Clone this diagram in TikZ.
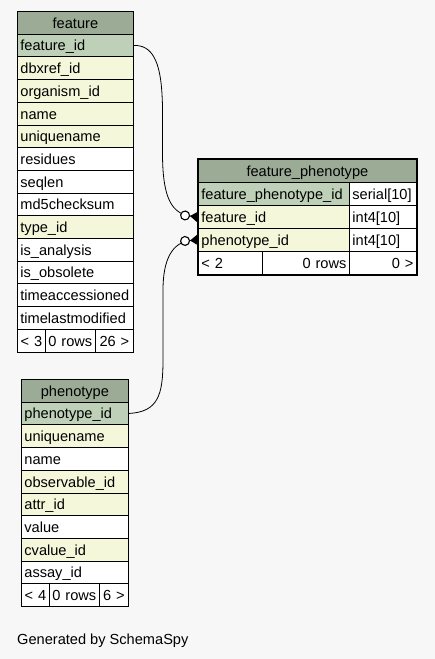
\documentclass[tikz,border=0pt]{standalone}
\usepackage{fontspec}
\setmainfont{Liberation Sans}
\usetikzlibrary{arrows.meta}
\definecolor{hdrcolor}{HTML}{9BAB96}
\definecolor{pkcolor}{HTML}{BED1B8}
\definecolor{fkcolor}{HTML}{F4F7DA}
\definecolor{bgcolor}{HTML}{F7F7F7}
\tikzset{
    cell/.style={draw=black, line width=0.8pt, anchor=north west, inner xsep=3pt,
        inner ysep=0pt, minimum height=22.7pt, text width=#1, align=left,
        text height=12pt, text depth=1pt},
    hdrrow/.style={fill=hdrcolor, align=center},
    pkrow/.style={fill=pkcolor},
    fkrow/.style={fill=fkcolor},
    plainrow/.style={fill=white},
    relation/.style={line width=0.8pt,
        -{Circle[open,fill=white,length=10pt,width=10pt,line width=1.1pt] Triangle[reversed,length=8pt,width=11pt]}}
}

\begin{document}
\begin{tikzpicture}[x=1pt, y=-1pt, font=\fontsize{14.6}{17}\selectfont]

% Hintergrund
\fill[bgcolor] (0,0) rectangle (435,659);
\useasboundingbox (0,0) rectangle (435,659);

% Tabelle feature
\node[cell=110pt, hdrrow] (fh) at (17,11) {feature};
\foreach \txt/\kind [count=\i] in {feature\_id/pkrow, dbxref\_id/fkrow, organism\_id/fkrow,
    name/fkrow, uniquename/fkrow, residues/plainrow, seqlen/plainrow, md5checksum/plainrow,
    type\_id/fkrow, is\_analysis/plainrow, is\_obsolete/plainrow, timeaccessioned/plainrow,
    timelastmodified/plainrow}
    \node[cell=110pt, \kind] (f\i) at (17,{11+22.7*\i}) {\txt};
\node[cell=22pt, plainrow, align=center] (ff1) at (17,328.8) {< 3};
\node[cell=44pt, plainrow, align=center] (ff2) at (45,328.8) {0 rows};
\node[cell=32pt, plainrow, align=center] (ff3) at (95,328.8) {26 >};

% Tabelle feature_phenotype
\node[cell=212pt, hdrrow, minimum height=23pt] (fph) at (198,159) {feature\_phenotype};
\node[cell=145pt, pkrow, minimum height=23pt] (fp1) at (198,182) {feature\_phenotype\_id};
\node[cell=61pt, plainrow, minimum height=23pt] (fp1t) at (349,182) {serial[10]};
\node[cell=145pt, fkrow, minimum height=23pt] (fp2) at (198,205) {feature\_id};
\node[cell=61pt, plainrow, minimum height=23pt] (fp2t) at (349,205) {int4[10]};
\node[cell=145pt, fkrow, minimum height=23pt] (fp3) at (198,228) {phenotype\_id};
\node[cell=61pt, plainrow, minimum height=23pt] (fp3t) at (349,228) {int4[10]};
\node[cell=58pt, plainrow, minimum height=23pt] (fpf1) at (198,251) {< 2};
\node[cell=81pt, plainrow, minimum height=23pt, align=right] (fpf2) at (262,251) {0 rows};
\node[cell=61pt, plainrow, minimum height=23pt, align=right] (fpf3) at (349,251) {0 >};
\draw[line width=2.6pt] (fph.north west) rectangle (fpf3.south east);

% Tabelle phenotype
\node[cell=101pt, hdrrow] (ph) at (21,379) {phenotype};
\foreach \txt/\kind [count=\i] in {phenotype\_id/pkrow, uniquename/fkrow, name/plainrow,
    observable\_id/fkrow, attr\_id/fkrow, value/plainrow, cvalue\_id/fkrow, assay\_id/plainrow}
    \node[cell=101pt, \kind] (p\i) at (21,{379+22.7*\i}) {\txt};
\node[cell=22pt, plainrow, align=center] (pf1) at (21,583.3) {< 4};
\node[cell=44pt, plainrow, align=center] (pf2) at (49,583.3) {0 rows};
\node[cell=23pt, plainrow, align=center] (pf3) at (99,583.3) {6 >};

% Beziehungen
\draw[relation] (f1.east) .. controls (172,44) and (160,120) .. (163,170)
    .. controls (165,198) and (172,214) .. (fp2.west);
\draw[relation] (p1.east) .. controls (158,412) and (163,395) .. (163,360) -- (163,290)
    .. controls (163,260) and (172,242) .. (fp3.west);

% Fusszeile
\node[anchor=west, inner sep=0pt] (gen) at (17,641) {Generated by SchemaSpy};
\end{tikzpicture}
\end{document}
